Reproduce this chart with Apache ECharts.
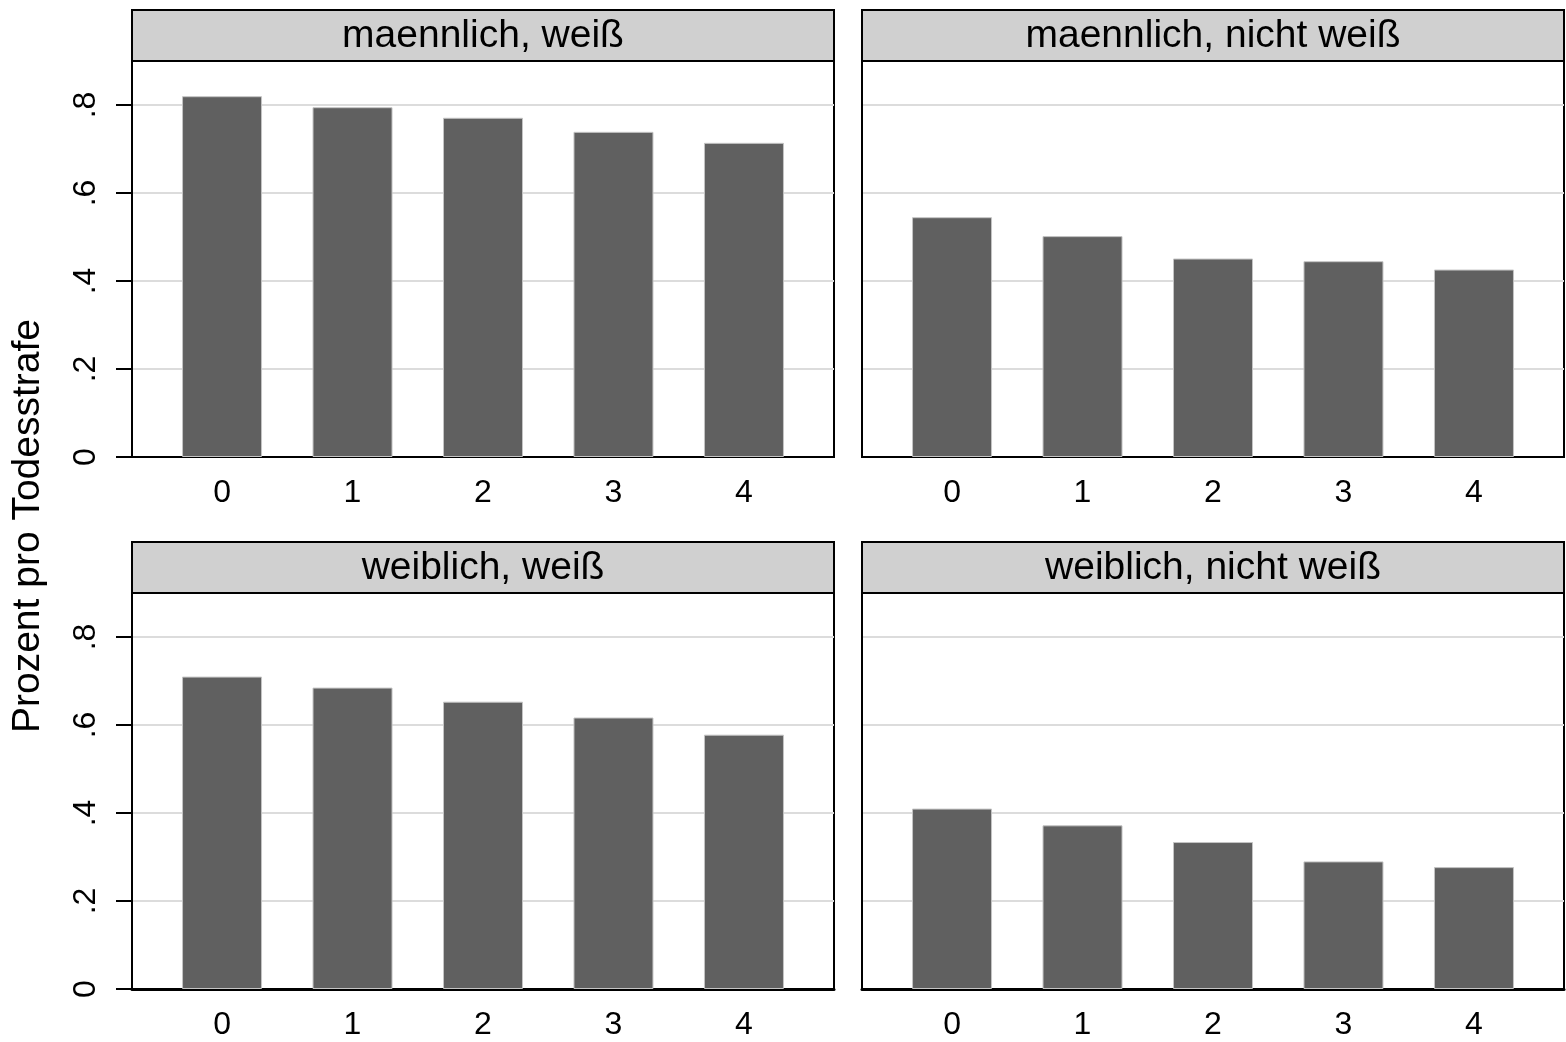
<!DOCTYPE html>
<html>
<head>
<meta charset="utf-8">
<script src="https://cdn.jsdelivr.net/npm/echarts@6/dist/echarts.min.js"></script>
<style>
html,body{margin:0;padding:0;background:#fff;}
#chart{width:1566px;height:1042px;}
</style>
</head>
<body>
<div id="chart"></div>
<script>
const categories = [0, 1, 2, 3, 4];
const panelTitles = ['maennlich, weiß', 'maennlich, nicht weiß', 'weiblich, weiß', 'weiblich, nicht weiß'];
const maleWhite = [0.820, 0.795, 0.771, 0.739, 0.714];
const maleNonWhite = [0.545, 0.502, 0.451, 0.445, 0.426];
const femaleWhite = [0.710, 0.685, 0.653, 0.617, 0.578];
const femaleNonWhite = [0.410, 0.372, 0.334, 0.290, 0.277];
const yTicks = [0, 0.2, 0.4, 0.6, 0.8];
const yTitle = 'Prozent pro Todesstrafe';

const panelData = [maleWhite, maleNonWhite, femaleWhite, femaleNonWhite];
const FONT = '"Liberation Sans", Arial, sans-serif';

const panels = [
  {left: 132, top: 61},
  {left: 862, top: 61},
  {left: 132, top: 593},
  {left: 862, top: 593}
];
const PW = 702, PH = 396, HH = 51;

const grids = [], xAxes = [], yAxes = [], series = [], graphics = [];
panels.forEach((p, i) => {
  grids.push({left: p.left, top: p.top, width: PW, height: PH, show: true,
    borderColor: '#000', borderWidth: 2, backgroundColor: '#fff', containLabel: false});
  xAxes.push({type: 'value', gridIndex: i, min: -0.69, max: 4.69,
    axisLine: {show: true, onZero: false, lineStyle: {color: '#000', width: i >= 2 ? 3 : 2}},
    axisTick: {show: false},
    splitLine: {show: false},
    axisLabel: {customValues: categories, fontSize: 32, color: '#000', fontFamily: FONT, margin: 20,
      formatter: v => String(v)}
  });
  const isLeft = (i % 2 === 0);
  yAxes.push({type: 'value', gridIndex: i, min: 0, max: 0.9,
    axisLine: {show: true, onZero: false, lineStyle: {color: '#000', width: 2}},
    axisTick: {show: isLeft, length: 16, lineStyle: {color: '#000', width: 2}, customValues: yTicks},
    splitLine: {show: true, lineStyle: {color: '#dcdcdc', width: 2}},
    axisLabel: {show: isLeft, customValues: yTicks, rotate: 90, fontSize: 32, color: '#000', fontFamily: FONT, margin: 30,
      formatter: v => v === 0 ? '0' : String(Math.round(v * 10) / 10).replace(/^0/, '')}
  });
  series.push({type: 'bar', xAxisIndex: i, yAxisIndex: i, barWidth: 80,
    data: categories.map((c, k) => [c, panelData[i][k]]),
    itemStyle: {color: '#606060', borderColor: '#c4c4c4', borderWidth: 1},
    silent: true, animation: false});
  graphics.push({type: 'rect', shape: {x: p.left, y: p.top - HH, width: PW, height: HH},
    style: {fill: '#d0d0d0', stroke: '#000', lineWidth: 2}, z: 10});
  graphics.push({type: 'text', x: p.left + PW / 2, y: p.top - HH / 2 + 1,
    style: {text: panelTitles[i], fontSize: 39, fontFamily: FONT, fill: '#000', align: 'center', verticalAlign: 'middle'}, z: 11});
});
graphics.push({type: 'text', x: 28, y: 526, rotation: Math.PI / 2,
  style: {text: yTitle, fontSize: 39, fontFamily: FONT, fill: '#000', align: 'center', verticalAlign: 'middle'}, z: 11});

const chart = echarts.init(document.getElementById('chart'));
chart.setOption({
  animation: false,
  backgroundColor: '#fff',
  grid: grids, xAxis: xAxes, yAxis: yAxes, series: series, graphic: graphics
});
</script>
</body>
</html>
